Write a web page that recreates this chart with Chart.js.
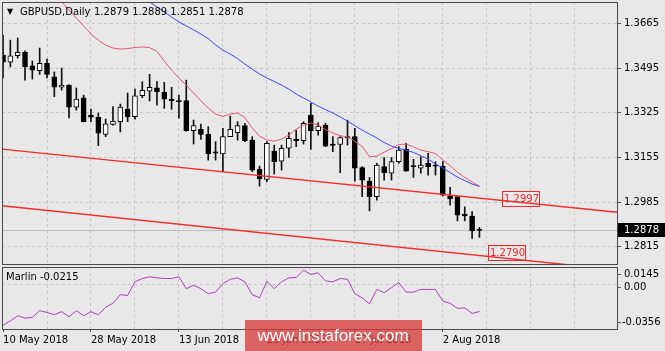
<!DOCTYPE html>
<html><head><meta charset="utf-8">
<script src="https://cdn.jsdelivr.net/npm/chart.js@4.4.0/dist/chart.umd.min.js"></script>
<style>
html,body{margin:0;padding:0;background:#e8e8e8;width:665px;height:351px;overflow:hidden}
#c1{position:absolute;left:0;top:0}
#c2{position:absolute;left:0;top:266px}
</style></head><body>
<canvas id="c1" width="665" height="267"></canvas>
<canvas id="c2" width="665" height="85"></canvas>
<script>
// ---------- data ----------
const symbol = 'GBPUSD';
const timeframe = 'Daily';
const dateLabels = ['10 May 2018','28 May 2018','13 Jun 2018','29 Jun 2018','17 Jul 2018','2 Aug 2018'];
const dateTickIdx = [0,12,24,36,48,60];
const priceTicks = [1.3665,1.3495,1.3325,1.3155,1.2985,1.2815];
const marlinTicks = [0.0145,0,-0.0356];

const opens = [1.3544,1.3517,1.3542,1.3555,1.3503,1.3485,1.3513,1.3462,1.3422,1.3430,
1.3346,1.3382,1.3316,1.3308,1.3243,1.3281,1.3291,1.3339,1.3310,1.3390,
1.3407,1.3420,1.3403,1.3377,1.3371,1.3371,1.3257,1.3262,1.3243,1.3176,
1.3168,1.3234,1.3249,1.3276,1.3221,1.3110,1.3072,1.3179,1.3141,1.3190,
1.3224,1.3219,1.3316,1.3257,1.3278,1.3206,1.3205,1.3234,1.3234,1.3117,
1.3065,1.3006,1.3120,1.3095,1.3139,1.3187,1.3122,1.3114,1.3133,1.3126,
1.3122,1.3009,1.3006,1.2940,1.2932,1.2879];
const highs = [1.3620,1.3601,1.3609,1.3560,1.3522,1.3571,1.3529,1.3480,1.3495,1.3432,
1.3419,1.3392,1.3339,1.3324,1.3301,1.3348,1.3358,1.3400,1.3415,1.3443,
1.3471,1.3443,1.3441,1.3422,1.3392,1.3449,1.3297,1.3282,1.3272,1.3215,
1.3266,1.3312,1.3291,1.3285,1.3234,1.3122,1.3215,1.3202,1.3202,1.3250,
1.3259,1.3291,1.3361,1.3287,1.3285,1.3234,1.3234,1.3297,1.3266,1.3120,
1.3079,1.3133,1.3155,1.3155,1.3196,1.3209,1.3148,1.3158,1.3171,1.3139,
1.3139,1.3041,1.3006,1.2967,1.2949,1.2889];
const lows = [1.3457,1.3499,1.3533,1.3449,1.3453,1.3471,1.3457,1.3386,1.3411,1.3305,
1.3335,1.3290,1.3291,1.3200,1.3234,1.3278,1.3252,1.3291,1.3301,1.3382,
1.3370,1.3354,1.3342,1.3338,1.3304,1.3255,1.3206,1.3224,1.3145,1.3145,
1.3101,1.3234,1.3221,1.3215,1.3101,1.3046,1.3063,1.3092,1.3107,1.3155,
1.3196,1.3206,1.3186,1.3240,1.3196,1.3177,1.3097,1.3202,1.3065,1.3006,
1.2952,1.2993,1.3069,1.3069,1.3133,1.3103,1.3079,1.3095,1.3088,1.3088,
1.3009,1.2974,1.2914,1.2914,1.2847,1.2851];
const closes = [1.3517,1.3541,1.3555,1.3500,1.3487,1.3513,1.3471,1.3422,1.3430,1.3346,
1.3377,1.3291,1.3308,1.3247,1.3283,1.3293,1.3347,1.3309,1.3389,1.3410,
1.3422,1.3405,1.3377,1.3371,1.3367,1.3257,1.3276,1.3243,1.3168,1.3171,
1.3234,1.3262,1.3276,1.3219,1.3107,1.3073,1.3209,1.3139,1.3190,1.3228,
1.3219,1.3285,1.3257,1.3274,1.3198,1.3201,1.3231,1.3230,1.3114,1.3069,
1.3006,1.3126,1.3097,1.3139,1.3183,1.3103,1.3120,1.3126,1.3120,1.3122,
1.3012,1.2997,1.2936,1.2933,1.2876,1.2878];

// red moving average (fast)
const maFast = [null,null,null,null,null,null,null,1.3776,1.3746,1.3716,
1.3685,1.3655,1.3624,1.3601,1.3582,1.3571,1.3567,1.3569,1.3573,1.3575,
1.3573,1.3558,1.3522,1.3487,1.3457,1.3430,1.3400,1.3370,1.3343,1.3320,
1.3311,1.3320,1.3324,1.3307,1.3267,1.3236,1.3221,1.3217,1.3225,1.3240,
1.3263,1.3278,1.3286,1.3278,1.3261,1.3248,1.3238,1.3233,1.3217,1.3197,
1.3158,1.3160,1.3175,1.3189,1.3204,1.3206,1.3195,1.3183,1.3177,1.3170,
1.3145,1.3124,1.3099,1.3079,1.3062,1.3046];
// blue moving average (slow)
const maSlow = [null,null,null,null,null,null,null,null,null,null,
null,null,null,null,null,null,null,null,null,1.3765,
1.3746,1.3727,1.3708,1.3689,1.3670,1.3655,1.3640,1.3624,1.3607,1.3583,
1.3563,1.3548,1.3531,1.3510,1.3491,1.3472,1.3457,1.3444,1.3430,1.3415,
1.3396,1.3381,1.3366,1.3350,1.3337,1.3324,1.3309,1.3293,1.3276,1.3259,
1.3244,1.3229,1.3212,1.3198,1.3189,1.3183,1.3174,1.3162,1.3149,1.3130,
1.3115,1.3098,1.3080,1.3067,1.3054,1.3045];

// trend channel lines (bar index, price)
const channelIdx = [-1, 84];
const upperChannel = [1.3189, 1.2946];
const lowerChannel = [1.2974, 1.2727];
const channelLabelIdx = [68.1, 66.2];
const channelLabelVals = [1.2997, 1.2790];

// Marlin oscillator
const marlin = [-0.0326,-0.0290,-0.0249,-0.0268,-0.0263,-0.0208,-0.0222,-0.0241,-0.0216,-0.0257,
-0.0208,-0.0249,-0.0216,-0.0241,-0.0181,-0.0148,-0.0079,-0.0085,0.0025,0.0052,
0.0066,0.0057,0.0052,0.0052,0.0066,-0.0030,-0.0003,-0.0030,-0.0071,-0.0058,
0.0011,0.0046,0.0057,0.0025,-0.0079,-0.0104,0.0030,-0.0030,0.0025,0.0057,
0.0060,0.0120,0.0085,0.0098,0.0033,0.0025,0.0052,0.0046,-0.0071,-0.0104,
-0.0153,-0.0036,-0.0063,-0.0022,0.0019,-0.0058,-0.0058,-0.0036,-0.0036,-0.0036,
-0.0131,-0.0148,-0.0189,-0.0186,-0.0230,-0.0215];

// ---------- layout / style ----------
const X_MIN = -0.14, X_MAX = 83.77;
const FONT = '"DejaVu Sans", sans-serif';
const GRID = '#c6c6c6';
const gridEvery6 = [];
for (let v = 6; v <= 78; v += 6) gridEvery6.push(v);
const idx = opens.map((_, i) => i);
const last = opens.length - 1;

const mainDecor = {
  id: 'mainDecor',
  beforeDatasetsDraw(chart) {
    const {ctx, chartArea: a, scales: {y}} = chart;
    const py = Math.round(y.getPixelForValue(closes[last])) + 0.5;
    ctx.save();
    ctx.strokeStyle = '#bdbdbd'; ctx.lineWidth = 1;
    ctx.beginPath(); ctx.moveTo(a.left, py); ctx.lineTo(a.right, py); ctx.stroke();
    ctx.restore();
  },
  afterDatasetsDraw(chart) {
    const {ctx, scales: {x, y}} = chart;
    ctx.save();
    ctx.font = '10px ' + FONT;
    ctx.textBaseline = 'middle';
    ctx.textAlign = 'center';
    for (let k = 0; k < channelLabelVals.length; k++) {
      const px = Math.round(x.getPixelForValue(channelLabelIdx[k])) + 0.5;
      const py = Math.round(y.getPixelForValue(channelLabelVals[k]));
      ctx.strokeStyle = '#f02a2a'; ctx.lineWidth = 1;
      ctx.strokeRect(px, py - 7.5, 37, 15);
      ctx.fillStyle = '#f02a2a';
      ctx.fillText(channelLabelVals[k].toFixed(4), px + 19, py + 0.5);
    }
    ctx.restore();
  },
  afterDraw(chart) {
    const {ctx, chartArea: a, scales: {y}} = chart;
    ctx.save();
    ctx.strokeStyle = '#4a4a4a'; ctx.lineWidth = 1;
    ctx.strokeRect(a.left + 0.5, a.top + 0.5, a.right - a.left, a.bottom - a.top);
    // title
    ctx.fillStyle = '#000';
    ctx.font = '8px ' + FONT;
    ctx.textBaseline = 'middle';
    ctx.fillText('\u25BC', 7, 12);
    ctx.font = '10px ' + FONT;
    ctx.fillText(symbol + ',' + timeframe, 20, 12);
    ctx.fillText([opens[last], highs[last], lows[last], closes[last]].map(v => v.toFixed(4)).join(' '), 94, 12);
    // current price tag
    const py = Math.round(y.getPixelForValue(closes[last]));
    ctx.fillStyle = '#000';
    ctx.fillRect(618, py - 7, 47, 14);
    ctx.fillStyle = '#fff';
    ctx.fillText(closes[last].toFixed(4), 624, py + 0.5);
    ctx.restore();
  }
};

new Chart(document.getElementById('c1'), {
  type: 'bar',
  data: {
    datasets: [
      { type: 'bar', data: idx.map(i => ({x: i, y: [lows[i], highs[i]]})),
        backgroundColor: '#111', borderWidth: 0, barThickness: 1, grouped: false, order: 5 },
      { type: 'bar', data: idx.map(i => ({x: i, y: [opens[i], closes[i]]})),
        backgroundColor: idx.map(i => closes[i] >= opens[i] ? '#ffffff' : '#000000'),
        borderColor: '#000', borderWidth: 1, borderSkipped: false, barThickness: 5,
        minBarLength: 1, grouped: false, order: 4 },
      { type: 'line', data: idx.map(i => ({x: i, y: maFast[i]})), borderColor: '#e5566f',
        borderWidth: 1, pointRadius: 0, spanGaps: false, order: 3 },
      { type: 'line', data: idx.map(i => ({x: i, y: maSlow[i]})), borderColor: '#3b46f2',
        borderWidth: 1, pointRadius: 0, spanGaps: false, order: 2 },
      { type: 'line', data: channelIdx.map((v, k) => ({x: v, y: upperChannel[k]})), borderColor: '#f22c2c',
        borderWidth: 1.4, pointRadius: 0, order: 1 },
      { type: 'line', data: channelIdx.map((v, k) => ({x: v, y: lowerChannel[k]})), borderColor: '#f22c2c',
        borderWidth: 1.4, pointRadius: 0, order: 1 }
    ]
  },
  options: {
    responsive: false, animation: false, events: [],
    layout: {padding: {left: 2, top: 2, right: 0, bottom: 3}},
    plugins: {legend: {display: false}, tooltip: {enabled: false}},
    scales: {
      x: {
        type: 'linear', min: X_MIN, max: X_MAX, offset: false,
        grid: {offset: false, color: GRID, drawTicks: false},
        border: {display: false, dash: [3, 3]},
        ticks: {display: false},
        afterBuildTicks: s => { s.ticks = gridEvery6.map(v => ({value: v})); },
        afterFit: s => { s.height = 0; s.paddingLeft = 0; s.paddingRight = 0; }
      },
      y: {
        position: 'right', min: 1.2750, max: 1.3746,
        grid: {color: GRID, tickLength: 4, tickColor: '#555'},
        border: {display: false, dash: [3, 3]},
        ticks: {font: {family: FONT, size: 10}, color: '#000', padding: 3,
                callback: v => v.toFixed(4)},
        afterBuildTicks: s => { s.ticks = priceTicks.map(v => ({value: v})); },
        afterFit: s => { s.width = 48; s.paddingTop = 0; s.paddingBottom = 0; }
      }
    }
  },
  plugins: [mainDecor]
});

const subDecor = {
  id: 'subDecor',
  afterDraw(chart) {
    const {ctx, chartArea: a, scales: {y}} = chart;
    ctx.save();
    ctx.strokeStyle = '#4a4a4a'; ctx.lineWidth = 1;
    ctx.strokeRect(a.left + 0.5, a.top + 0.5, a.right - a.left, a.bottom - a.top);
    ctx.fillStyle = '#000';
    ctx.font = '10px ' + FONT;
    ctx.textBaseline = 'middle';
    ctx.fillText('Marlin ' + marlin[last].toFixed(4), 6, a.top + 10);
    // right axis labels (placed inside the window like the terminal does)
    marlinTicks.forEach(v => {
      let py = y.getPixelForValue(v);
      if (v === marlinTicks[0]) py += 7;
      else if (v === marlinTicks[2]) py -= 7;
      else py += 2;
      py = Math.round(py);
      ctx.strokeStyle = '#555';
      ctx.beginPath(); ctx.moveTo(a.right, py + 0.5); ctx.lineTo(a.right + 4, py + 0.5); ctx.stroke();
      ctx.fillText(v === 0 ? '0.00' : v.toFixed(4), v < 0 ? 622 : 624, py + 0.5);
    });
    // watermark
    ctx.fillStyle = 'rgba(214,60,60,0.78)';
    ctx.fillRect(245, 54, 177, 31);
    ctx.fillStyle = '#ffffff';
    ctx.font = '17px "Liberation Sans", Arial, sans-serif';
    ctx.textAlign = 'center';
    ctx.fillText('www.instaforex.com', 333, 70);
    ctx.restore();
  }
};

new Chart(document.getElementById('c2'), {
  type: 'line',
  data: {
    datasets: [
      { data: idx.map(i => ({x: i, y: marlin[i]})), borderColor: '#a940b8',
        borderWidth: 1, pointRadius: 0 }
    ]
  },
  options: {
    responsive: false, animation: false, events: [],
    layout: {padding: {left: 2, top: 1, right: 0, bottom: 0}},
    plugins: {legend: {display: false}, tooltip: {enabled: false}},
    scales: {
      x: {
        type: 'linear', min: X_MIN, max: X_MAX, offset: false,
        grid: {offset: false, tickLength: 3,
               color: c => (c.tick && c.tick.value === 0) ? 'rgba(0,0,0,0)' : GRID,
               tickColor: c => (c.tick && dateTickIdx.includes(c.tick.value)) ? '#444' : 'rgba(0,0,0,0)'},
        border: {display: false, dash: [3, 3]},
        ticks: {autoSkip: false, maxRotation: 0, minRotation: 0, align: 'start', padding: 2,
                font: {family: FONT, size: 10}, color: '#000',
                callback: v => { const k = dateTickIdx.indexOf(v); return k >= 0 ? dateLabels[k] : ''; }},
        afterBuildTicks: s => { s.ticks = [0].concat(gridEvery6).map(v => ({value: v})); },
        afterFit: s => { s.height = 22; s.paddingLeft = 0; s.paddingRight = 0; }
      },
      y: {
        position: 'right', min: -0.0356, max: 0.0145,
        grid: {color: GRID, drawTicks: false},
        border: {display: false, dash: [3, 3]},
        ticks: {display: false},
        afterBuildTicks: s => { s.ticks = [{value: 0}]; },
        afterFit: s => { s.width = 48; s.paddingTop = 0; s.paddingBottom = 0; }
      }
    }
  },
  plugins: [subDecor]
});
</script>
</body></html>
